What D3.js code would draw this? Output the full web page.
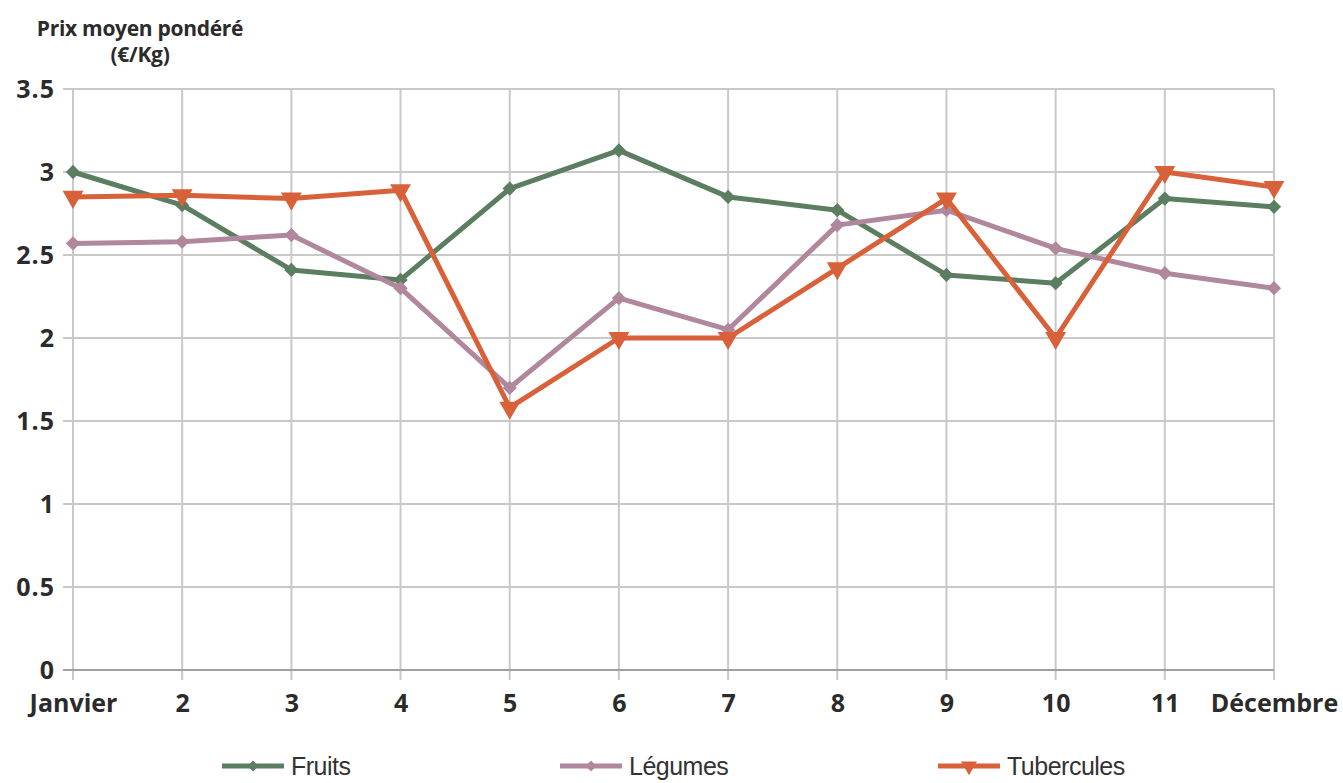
<!DOCTYPE html>
<html>
<head>
<meta charset="utf-8">
<script src="https://cdn.jsdelivr.net/npm/d3@7"></script>
<style>
  body { margin: 0; background: #fff; }
  svg { display: block; }
  .tick text { font-family: "Open Sans", sans-serif; font-weight: 700; fill: #2b2b2b; }
</style>
</head>
<body>
<svg width="1343" height="783"></svg>
<script>
// months on the x axis
const months = ["Janvier", "2", "3", "4", "5", "6", "7", "8", "9", "10", "11", "Décembre"];
const yTicks = [0, 0.5, 1, 1.5, 2, 2.5, 3, 3.5];

const fruits     = [3.0, 2.80, 2.41, 2.35, 2.90, 3.13, 2.85, 2.77, 2.38, 2.33, 2.84, 2.79];
const legumes    = [2.57, 2.58, 2.62, 2.30, 1.70, 2.24, 2.05, 2.68, 2.77, 2.54, 2.39, 2.30];
const tubercules = [2.85, 2.86, 2.84, 2.89, 1.58, 2.0, 2.0, 2.42, 2.84, 2.0, 3.0, 2.91];

const seriesNames = ["Fruits", "Légumes", "Tubercules"];
const colors = ["#5b7d60", "#b0879c", "#d9613a"];

const svg = d3.select("svg");
const plotLeft = 73, plotRight = 1274, plotTop = 89, plotBottom = 670;

const x = d3.scalePoint().domain(months).range([plotLeft, plotRight]);
const y = d3.scaleLinear().domain([0, 3.5]).range([plotBottom, plotTop]);

// grid
svg.append("g")
  .selectAll("line")
  .data(yTicks.filter(d => d > 0))
  .join("line")
  .attr("x1", plotLeft - 10).attr("x2", plotRight)
  .attr("y1", d => y(d)).attr("y2", d => y(d))
  .attr("stroke", "#c9c9c9").attr("stroke-width", 2);

svg.append("g")
  .selectAll("line")
  .data(months)
  .join("line")
  .attr("x1", d => x(d)).attr("x2", d => x(d))
  .attr("y1", plotTop).attr("y2", plotBottom + 10)
  .attr("stroke", "#c9c9c9").attr("stroke-width", 2);

// axes
const yAxis = svg.append("g")
  .attr("transform", "translate(" + (plotLeft - 10) + ",0)")
  .call(d3.axisLeft(y).tickValues(yTicks).tickSize(0).tickPadding(8).tickFormat(d3.format("")));
yAxis.select(".domain").remove();
yAxis.selectAll("text").style("font-size", "25px").style("letter-spacing", "1px");

const xAxis = svg.append("g")
  .attr("transform", "translate(0," + plotBottom + ")")
  .call(d3.axisBottom(x).tickSize(0).tickPadding(24));
xAxis.select(".domain").remove();
xAxis.selectAll("text").style("font-size", "25px");

svg.append("line")
  .attr("x1", plotLeft - 10).attr("x2", plotRight)
  .attr("y1", plotBottom).attr("y2", plotBottom)
  .attr("stroke", "#a0a0a0").attr("stroke-width", 2);

// title
const title = svg.append("text")
  .attr("x", 140).attr("y", 36)
  .attr("text-anchor", "middle")
  .style("font-family", "'Open Sans', sans-serif")
  .style("font-weight", 700)
  .style("font-size", "21px")
  .style("letter-spacing", "-0.3px")
  .attr("fill", "#2b2b2b");
title.append("tspan").attr("x", 140).text("Prix moyen pondéré");
title.append("tspan").attr("x", 140).attr("dy", 26).text("(€/Kg)");

// series
const data = [fruits, legumes, tubercules];
const line = d3.line().x((d, i) => x(months[i])).y(d => y(d));
const diamond = d3.symbol().type(d3.symbolDiamond2).size(130);
const triangle = d3.symbol().type(d3.symbolTriangle).size(190);

data.forEach(function(values, k) {
  const g = svg.append("g");
  g.append("path")
    .datum(values)
    .attr("d", line)
    .attr("fill", "none")
    .attr("stroke", colors[k])
    .attr("stroke-width", 5)
    .attr("stroke-linejoin", "round");
  g.selectAll(".m")
    .data(values)
    .join("path")
    .attr("d", k === 2 ? triangle : diamond)
    .attr("transform", function(d, i) {
      return "translate(" + x(months[i]) + "," + y(d) + ")" + (k === 2 ? " rotate(180)" : "");
    })
    .attr("fill", colors[k]);
});

// legend
const legendX = [222, 560, 938];
const legendDiamond = d3.symbol().type(d3.symbolDiamond2).size(75);
const legendTriangle = d3.symbol().type(d3.symbolTriangle).size(110);
seriesNames.forEach(function(name, k) {
  const g = svg.append("g").attr("transform", "translate(" + legendX[k] + ",766)");
  g.append("line").attr("x1", 0).attr("x2", 62).attr("y1", 0).attr("y2", 0)
    .attr("stroke", colors[k]).attr("stroke-width", 5);
  g.append("path")
    .attr("d", k === 2 ? legendTriangle : legendDiamond)
    .attr("transform", "translate(31,0)" + (k === 2 ? " rotate(180)" : ""))
    .attr("fill", colors[k]);
  g.append("text")
    .attr("x", 69).attr("y", 9)
    .style("font-family", "'Liberation Sans', Arial, sans-serif")
    .style("font-size", "25px")
    .style("letter-spacing", "-0.5px")
    .attr("fill", "#333")
    .text(name);
});
</script>
</body>
</html>
